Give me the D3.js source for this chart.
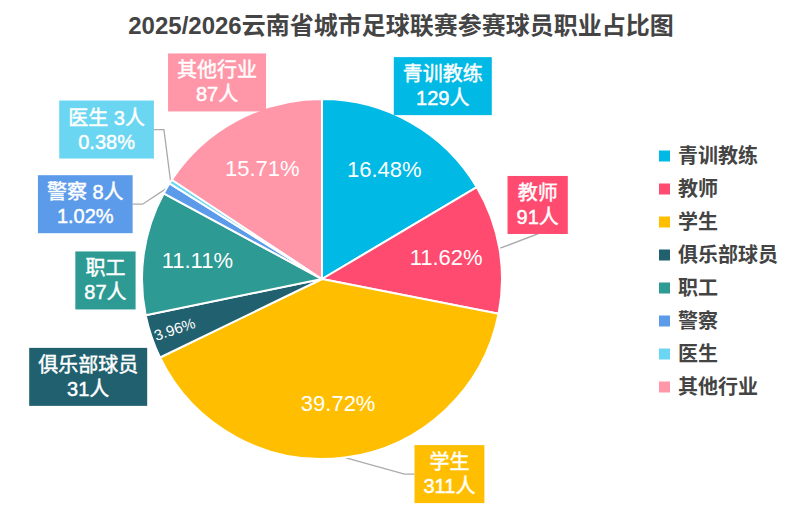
<!DOCTYPE html>
<html><head><meta charset="utf-8">
<script src="https://cdn.jsdelivr.net/npm/d3@7/dist/d3.min.js"></script>
<style>
html,body{margin:0;padding:0;background:#fff;}
svg{display:block;font-family:"Liberation Sans","Noto Sans CJK SC",sans-serif;}
</style></head>
<body><svg id="chart" width="802" height="510"></svg>
<script>
// ---- data ----
const titleText = "2025/2026云南省城市足球联赛参赛球员职业占比图";
const categories = ["青训教练","教师","学生","俱乐部球员","职工","警察","医生","其他行业"];
const sliceValues = [129, 91, 311, 31, 87, 8, 3, 123];   // slice sizes (give the printed percentages)
const labelCounts = [129, 91, 311, 31, 87, 8, 3, 87];    // counts printed in the label boxes
const colors = ["#00B9E5","#FF4B6F","#FFBF00","#21616F","#2D9A93","#5B9BEA","#6AD6F1","#FF97A9"];

// ---- layout ----
const W = 802, H = 510;
const cx = 322, cy = 279, R = 180;
const boxRadius = 230;
const labelNudge = [[7,7],[-11,-35],[98,-33],[-16,24],[11,35],[-38,41],[-22,-25],[4,6]];
const leaderMode = ["none","bottom","side","none","none","side","side","none"];

const svg = d3.select("#chart");
const total = d3.sum(sliceValues);
const data = categories.map((c,i)=>({name:c, value:sliceValues[i], count:labelCounts[i], color:colors[i]}));
const pct = v => (v/total*100).toFixed(2) + "%";
const polar = (a, r) => [cx + r*Math.sin(a), cy - r*Math.cos(a)];

svg.append("text").attr("x", W/2).attr("y", 25)
  .attr("text-anchor","middle").attr("dominant-baseline","central")
  .attr("font-size", 24).attr("font-weight","bold").attr("fill","#444")
  .text(titleText);

const pie = d3.pie().sort(null).value(d=>d.value);
const arcs = pie(data);
const arc = d3.arc().innerRadius(0).outerRadius(R);

const leaderG = svg.append("g");
const g = svg.append("g");
const innerG = svg.append("g");
const boxG = svg.append("g");

const boxes = arcs.map((a,i)=>{
  const mid = (a.startAngle + a.endAngle)/2;
  const p = polar(mid, boxRadius);
  return {cx: p[0] + labelNudge[i][0], cy: p[1] + labelNudge[i][1], mid};
});

// slices
g.selectAll("path.slice").data(arcs).enter().append("path")
  .attr("class","slice")
  .attr("transform",`translate(${cx},${cy})`)
  .attr("d", arc)
  .attr("fill", d=>d.data.color)
  .attr("stroke","#fff").attr("stroke-width",2).attr("stroke-linejoin","round");

// inner labels
arcs.forEach((a,i)=>{
  const share = a.data.value/total;
  if (share < 0.02) return;
  const mid = (a.startAngle + a.endAngle)/2;
  if (share < 0.05) {
    const p = polar(mid, R*0.865);
    const deg = mid*180/Math.PI - 270;
    innerG.append("text").attr("transform",`translate(${p[0]},${p[1]}) rotate(${deg})`)
      .attr("text-anchor","middle").attr("dominant-baseline","central")
      .attr("font-size",15).attr("fill","#fff").text(pct(a.data.value));
  } else {
    const p = polar(mid, R*0.7);
    innerG.append("text").attr("x",p[0]).attr("y",p[1])
      .attr("text-anchor","middle").attr("dominant-baseline","central")
      .attr("font-size",22).attr("fill","#fff").text(pct(a.data.value));
  }
});

// label boxes
const lineGap = 12, padX = 9, boxH = 58, fs = 20;
arcs.forEach((a,i)=>{
  const d = a.data, b = boxes[i];
  const small = d.value/total < 0.02;
  const l1 = small ? `${d.name} ${d.count}人` : d.name;
  const l2 = small ? pct(d.value) : `${d.count}人`;
  const lg = boxG.append("g");
  const rect = lg.append("rect").attr("fill", d.color);
  const t1 = lg.append("text").attr("x",b.cx).attr("y",b.cy-lineGap)
    .attr("text-anchor","middle").attr("dominant-baseline","central")
    .attr("font-size",fs).attr("fill","#fff").attr("stroke","#fff").attr("stroke-width",0.45).text(l1);
  const t2 = lg.append("text").attr("x",b.cx).attr("y",b.cy+lineGap)
    .attr("text-anchor","middle").attr("dominant-baseline","central")
    .attr("font-size",fs).attr("fill","#fff").attr("stroke","#fff").attr("stroke-width",0.45).text(l2);
  const w = Math.max(t1.node().getComputedTextLength(), t2.node().getComputedTextLength()) + 2*padX;
  const x0 = b.cx - w/2, y0 = b.cy - boxH/2;
  rect.attr("x",x0).attr("y",y0).attr("width",w).attr("height",boxH);
  // leader
  const s = polar(b.mid, R);
  let pts = null;
  if (leaderMode[i] === "side") {
    const right = b.cx > cx;
    const ex = right ? x0 : x0 + w;
    pts = [s, [ex + (right ? -10 : 10), b.cy], [ex, b.cy]];
  } else if (leaderMode[i] === "bottom") {
    pts = [s, [b.cx, y0 + boxH], [b.cx, b.cy]];
  }
  if (pts) {
    leaderG.append("path")
      .attr("d", d3.line()(pts)).attr("fill","none")
      .attr("stroke","#aaa").attr("stroke-width",1.3);
  }
});

// legend
const lgX = 659, lgY = 156, lgStep = 33;
const leg = svg.append("g");
categories.forEach((c,i)=>{
  leg.append("rect").attr("x",lgX).attr("y",lgY + i*lgStep - 5.5).attr("width",11).attr("height",11)
    .attr("fill",colors[i]);
  leg.append("text").attr("x",lgX+19).attr("y",lgY + i*lgStep)
    .attr("dominant-baseline","central").attr("font-size",20).attr("font-weight","bold")
    .attr("fill","#444").text(c);
});
</script>
</body></html>
